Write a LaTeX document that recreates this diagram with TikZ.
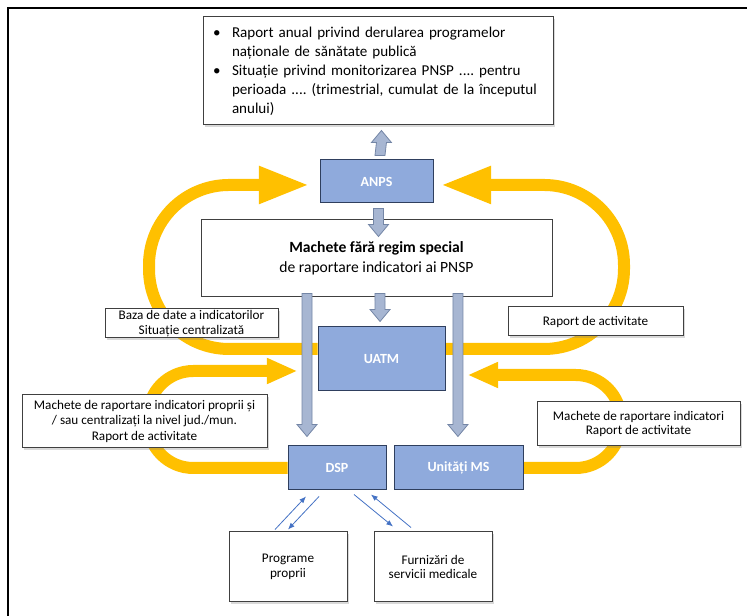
\documentclass[tikz,border=0pt]{standalone}
\usepackage{fontspec}
\setmainfont{Carlito}
\usetikzlibrary{arrows.meta,calc,shadows}
\setlength{\parindent}{0pt}
\frenchspacing
\definecolor{gold}{HTML}{FFC000}
\definecolor{boxblue}{HTML}{8FAADC}
\definecolor{boxline}{HTML}{2F3F5E}
\definecolor{arrfill}{HTML}{A7B6D2}
\definecolor{arrline}{HTML}{7486A6}
\definecolor{thinblue}{HTML}{4472C4}
\pgfdeclarelayer{back}
\pgfsetlayers{back,main}
\newcommand{\blockarr}[3]{%
\draw[grayarr] ($(#1)+(-5,0)$) -- ($(#2)+(-5,{-12*#3})$) -- ($(#2)+(-10,{-12*#3})$) -- (#2) -- ($(#2)+(10,{-12*#3})$) -- ($(#2)+(5,{-12*#3})$) -- ($(#1)+(5,0)$) -- cycle;}
\newcommand{\bul}[1]{\mbox{\makebox[14.25pt][l]{\textbullet}#1}}
\newcommand{\cont}[1]{\mbox{\hspace*{14.25pt}#1}}

\begin{document}
\begin{tikzpicture}[x=0.75pt, y=-0.75pt,
wbox/.style={draw=black!75, fill=white, line width=0.75pt, inner sep=0pt, align=center, font=\fontsize{9.9}{11}\selectfont},
shad/.style={drop shadow={shadow xshift=1.5pt, shadow yshift=-1.5pt, opacity=0.3}},
bbox/.style={draw=boxline, fill=boxblue, line width=0.75pt, inner sep=0pt, text=white, font=\bfseries\fontsize{10.5}{12}\selectfont},
goldloop/.style={gold, line width=9pt, rounded corners=60pt, -{Triangle[width=26pt,length=38pt]}},
goldsmall/.style={gold, line width=9pt, rounded corners=34pt, -{Triangle[width=18pt,length=23pt]}},
grayarr/.style={draw=arrline, fill=arrfill, line width=0.6pt},
thinarr/.style={thinblue, line width=0.6pt, -{Latex[length=5pt,width=4pt]}}]
\useasboundingbox (0,0) rectangle (747,616);
\draw[line width=2pt] (8,616) -- (8,8) -- (747,8);

\node[wbox, shad, align=left, text width=247.5pt, minimum width=262.5pt, minimum height=81pt, inner xsep=7.5pt, font=\fontsize{11.3}{14.25}\selectfont] (report) at (378,71) {\bul{Raport anual privind derularea programelor}\\
\cont{naționale de sănătate publică}\\
\bul{Situație privind monitorizarea PNSP .... pentru}\\
\cont{perioada .... (trimestrial, cumulat de la începutul}\\
\cont{anului)}};
\node[bbox, minimum width=84.75pt, minimum height=32.25pt] (anps) at (376.5,181.5) {ANPS};
\node[wbox, minimum width=263.25pt, minimum height=57.75pt, font=\fontsize{11.7}{15}\selectfont] (machete) at (376.5,258.5) {\textbf{Machete fără regim special}\\de raportare indicatori ai PNSP};
\node[wbox, shad, minimum width=129.75pt, minimum height=21.75pt] (baza) at (191.5,323.5) {Baza de date a indicatorilor\\Situație centralizată};
\node[wbox, shad, minimum width=131.25pt, minimum height=21.75pt] (raport) at (595.5,321.5) {Raport de activitate};
\node[bbox, minimum width=95.25pt, minimum height=48pt] (uatm) at (381.5,359) {UATM};
\node[wbox, shad, minimum width=183.75pt, minimum height=39.75pt] (machprop) at (144.5,421.5) {Machete de raportare indicatori proprii și\\/ sau centralizați la nivel jud./mun.\\[1.5pt]Raport de activitate};
\node[wbox, shad, minimum width=152.25pt, minimum height=33pt] (machms) at (638.5,424) {Machete de raportare indicatori\\Raport de activitate};
\node[bbox, minimum width=73.5pt, minimum height=33pt] (dsp) at (337,468) {DSP};
\node[bbox, minimum width=96.75pt, minimum height=33pt] (ums) at (458.5,468) {Unități MS};
\node[wbox, shad, minimum width=88.5pt, minimum height=52.5pt] (prog) at (288,567) {Programe\\proprii};
\node[wbox, shad, minimum width=88.5pt, minimum height=52.5pt] (furn) at (433,567) {Furnizări de\\servicii medicale};

\begin{pgfonlayer}{back}
\draw[goldloop] ([yshift=7.5pt]uatm.west) -- (149,349) -- (149,185) -- ([xshift=-7.5pt,yshift=-2.6pt]anps.west);
\draw[goldloop] ([yshift=7.5pt]uatm.east) -- (624,349) -- (624,185) -- ([xshift=5.25pt,yshift=-2.6pt]anps.east);
\draw[goldsmall] (dsp.west) -- (148,468) -- (148,371) -- ([xshift=-15pt,yshift=-9pt]uatm.west);
\draw[goldsmall] (ums.east) -- (621,468) -- (621,375) -- ([xshift=16.5pt,yshift=-12pt]uatm.east);
\end{pgfonlayer}

\blockarr{[xshift=2.6pt,yshift=3pt]anps.north}{[xshift=2.6pt,yshift=-3.75pt]report.south}{-1}
\blockarr{[xshift=1.5pt,yshift=-3.75pt]anps.south}{[xshift=1.5pt,yshift=-12.75pt]machete.north}{1}
\blockarr{[xshift=2.6pt,yshift=3pt]machete.south}{[xshift=-1.1pt,yshift=3.75pt]uatm.north}{1}
\blockarr{[xshift=-52.1pt,yshift=3pt]machete.south}{[xshift=-22.5pt,yshift=6.75pt]dsp.north}{1}
\blockarr{[xshift=61.1pt,yshift=3pt]machete.south}{[xshift=-0.4pt,yshift=6.75pt]ums.north}{1}

\draw[thinarr] ([xshift=-9.75pt,yshift=1.5pt]prog.north) -- ([xshift=-23.25pt,yshift=-4.5pt]dsp.south);
\draw[thinarr] ([xshift=-13.5pt,yshift=-4.5pt]dsp.south) -- ([yshift=1.5pt]prog.north);
\draw[thinarr] ([xshift=12.75pt,yshift=-3pt]dsp.south) -- ([xshift=-30pt,yshift=3.75pt]furn.north);
\draw[thinarr] ([xshift=-16.5pt,yshift=3pt]furn.north) -- ([xshift=25.5pt,yshift=-3pt]dsp.south);
\end{tikzpicture}
\end{document}
